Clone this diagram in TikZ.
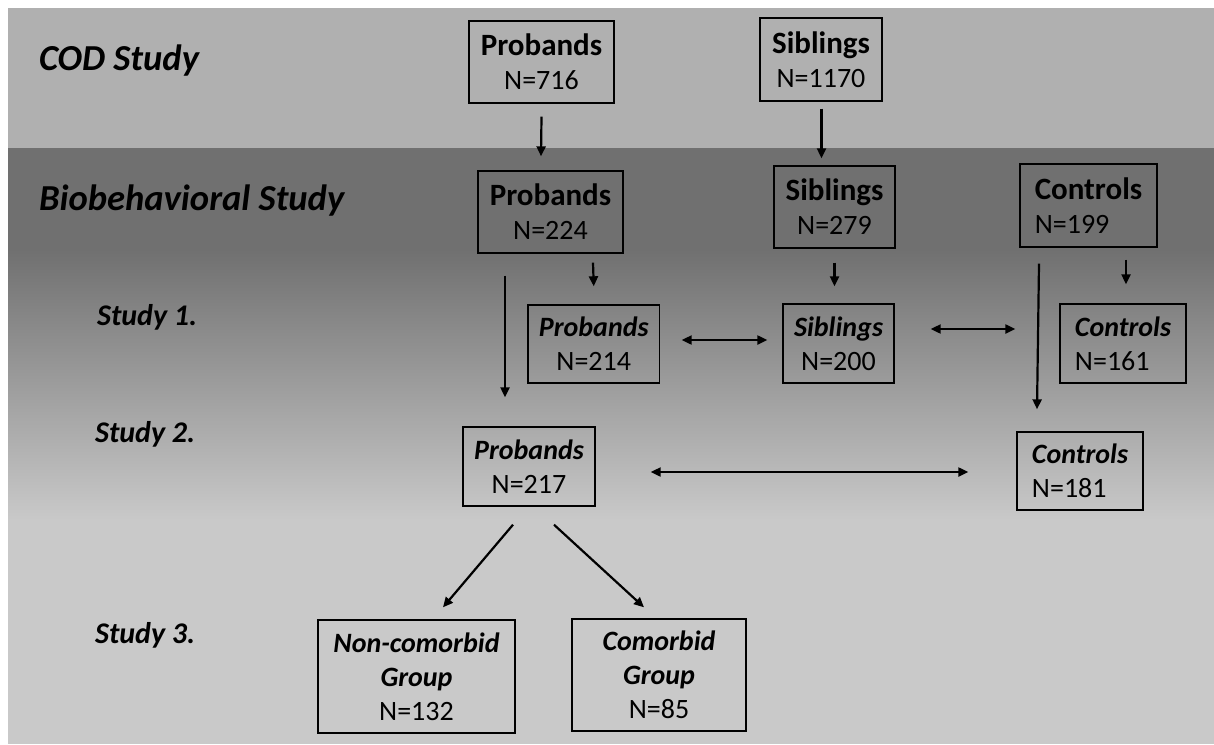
\documentclass[tikz,border=0pt]{standalone}
\usepackage{fontspec}
\setmainfont{Carlito}
\usetikzlibrary{arrows.meta, calc}
\definecolor{codgray}{gray}{0.69}
\definecolor{biogray}{gray}{0.44}
\definecolor{lowgray}{gray}{0.79}
\newcommand{\hdr}[1]{{\fontsize{15.5}{17}\selectfont\bfseries #1}}
\newcommand{\hdrit}[1]{{\fontsize{14}{16.5}\selectfont\bfseries\itshape #1}}
\newcommand{\cnt}[1]{{\fontsize{14}{17}\selectfont N=#1}}

\begin{document}
\begin{tikzpicture}[
    x=0.5pt, y=-0.5pt,
    cohort/.style={draw=black, line width=0.7pt, inner sep=0pt, align=center, font=\fontsize{14}{17}\selectfont},
    phase/.style={anchor=base west, font=\fontsize{18.3}{20}\selectfont\bfseries\itshape},
    study/.style={anchor=base west, font=\fontsize{15}{17}\selectfont\bfseries\itshape},
    flow/.style={-{Triangle[length=5pt, width=4.5pt]}, line width=1.1pt},
    link/.style={{Triangle[length=5pt, width=4.5pt]}-{Triangle[length=5pt, width=4.5pt]}, line width=1.1pt}
]
% background bands
\useasboundingbox (0,0) rectangle (1214,744);
\fill[white] (0,0) rectangle (1214,744);
\fill[codgray] (8,8) rectangle (1214,148);
\fill[biogray] (8,148) rectangle (1214,251);
\shade[top color=biogray, bottom color=lowgray] (8,250) rectangle (1214,521);
\fill[lowgray] (8,520) rectangle (1214,744);

% row titles
\node[phase] (tCod) at (32,70) {COD Study};
\node[phase] (tBio) at (32,210) {Biobehavioral Study};
\node[study] (t1) at (90,325) {Study 1.};
\node[study] (t2) at (88,442) {Study 2.};
\node[study] (t3) at (88,643) {Study 3.};

% groups
\node[cohort, minimum width=72.5pt, minimum height=41pt] (codP) at (541.5,62) {\hdr{Probands}\\\cnt{716}};
\node[cohort, minimum width=61pt, minimum height=41.5pt] (codS) at (821,59.5) {\hdr{Siblings}\\\cnt{1170}};
\node[cohort, minimum width=72.5pt, minimum height=41pt] (bioP) at (550.5,212) {\hdr{Probands}\\\cnt{224}};
\node[cohort, minimum width=60.5pt, minimum height=41pt] (bioS) at (834.5,207) {\hdr{Siblings}\\\cnt{279}};
\node[cohort, align=left, minimum width=68.5pt, minimum height=41.5pt] (bioC) at (1088.5,205.5) {\hdr{Controls}\\\cnt{199}};
\node[cohort, minimum width=65.75pt, minimum height=39pt] (s1P) at (593.75,344) {\hdrit{Probands}\\\cnt{214}};
\node[cohort, minimum width=55.5pt, minimum height=39.5pt] (s1S) at (838.5,343.5) {\hdrit{Siblings}\\\cnt{200}};
\node[cohort, align=left, minimum width=63pt, minimum height=39.5pt] (s1C) at (1123,343.5) {\hdrit{Controls}\\\cnt{161}};
\node[cohort, minimum width=66pt, minimum height=39.5pt] (s2P) at (529,466.5) {\hdrit{Probands}\\\cnt{217}};
\node[cohort, align=left, minimum width=63pt, minimum height=39pt] (s2C) at (1080,471) {\hdrit{Controls}\\\cnt{181}};
\node[cohort, minimum width=98.5pt, minimum height=56.5pt] (s3N) at (416.5,676.5) {\hdrit{Non-comorbid}\\\hdrit{Group}\\\cnt{132}};
\node[cohort, minimum width=87pt, minimum height=56pt] (s3C) at (659,675) {\hdrit{Comorbid}\\\hdrit{Group}\\\cnt{85}};

% arrows
\draw[flow] ($(codP.south)+(0,13)$) -- ($(bioP.north)+(-9.5,-14)$);
\draw[flow] ($(codS.south)+(0.5,7)$) -- ($(bioS.north)+(-13,-7)$);
\draw[flow] ($(bioP.south)+(42.5,9)$) -- ($(s1P.north)+(0,-18)$);
\draw[flow] ($(bioP.south)+(-45.5,22)$) -- ($(s2P.north)+(-24,-29)$);
\draw[flow] ($(bioS.south)+(0,14)$) -- ($(s1S.north)+(-4,-17)$);
\draw[flow] ($(bioC.south)+(-49.5,16)$) -- ($(s2C.north)+(-43,-22)$);
\draw[flow] ($(bioC.south)+(37.5,12)$) -- ($(s1C.north)+(3,-19)$);
\draw[link] ($(s1P.east)+(21.5,-4)$) -- ($(s1S.west)+(-15,-3.5)$);
\draw[link] ($(s1S.east)+(36,-14.5)$) -- ($(s1C.west)+(-44,-14.5)$);
\draw[link] ($(s2P.east)+(55,5.5)$) -- ($(s2C.west)+(-48,1)$);
\draw[flow] ($(s2P.south)+(-16,18)$) -- ($(s3N.north)+(26.5,-12)$);
\draw[flow] ($(s2P.south)+(25,18)$) -- ($(s3C.north)+(-15,-11)$);
\end{tikzpicture}
\end{document}
